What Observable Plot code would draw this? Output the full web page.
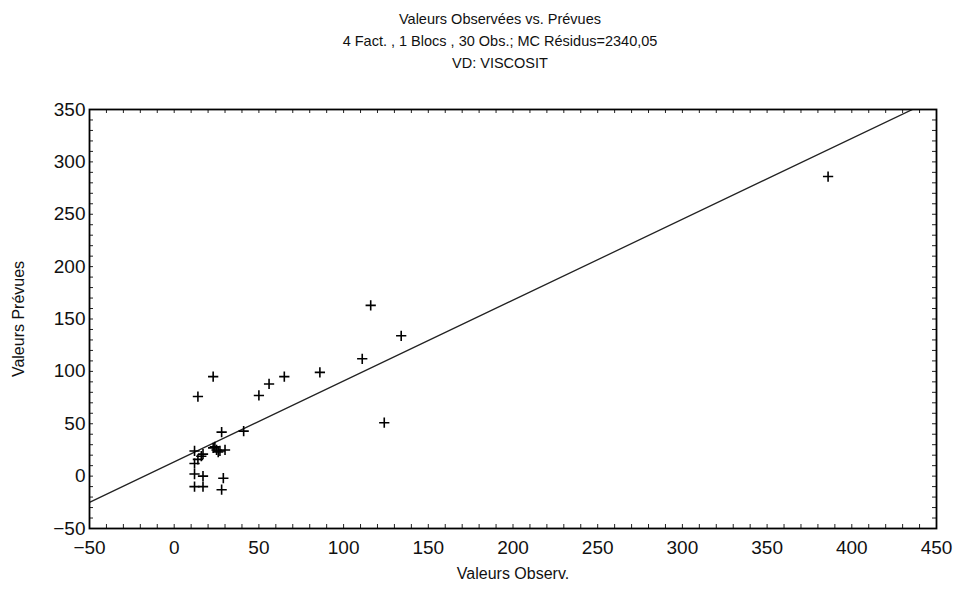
<!DOCTYPE html>
<html>
<head>
<meta charset="utf-8">
<script src="https://cdn.jsdelivr.net/npm/d3@7"></script>
<script src="https://cdn.jsdelivr.net/npm/@observablehq/plot@0.6"></script>
<style>
  html, body { margin: 0; padding: 0; background: #fff; }
  body { width: 956px; height: 590px; overflow: hidden; font-family: "Liberation Sans", Arial, sans-serif; }
  #title { height: 80px; box-sizing: border-box; padding-top: 8px; text-align: center; font-size: 14.5px; line-height: 22px; color: #111; padding-left: 44px; }
</style>
</head>
<body>
<div id="title">
  <div>Valeurs Observées vs. Prévues</div>
  <div>4 Fact. , 1 Blocs , 30 Obs.; MC Résidus=2340,05</div>
  <div>VD: VISCOSIT</div>
</div>
<div id="chart"></div>
<script>
// Observed values (x) and predicted values (y), 30 observations
const observed  = [386, 116, 134, 111, 124, 86, 65, 56, 50, 23, 14, 41, 28, 12, 17, 14, 12, 24, 25, 27, 30, 12, 17, 29, 12, 17, 28, 26, 23, 16];
const predicted = [286, 163, 134, 112,  51, 99, 95, 88, 77, 95, 76, 43, 42, 24, 21, 16, 12, 28, 25, 24, 25,  2,  0, -2, -10, -10, -13, 23, 27, 19];
// fitted line: predicted = fitIntercept + fitSlope * observed
const fitIntercept = 13.6;
const fitSlope = 0.772;
const lineX = [-50, 450];
const xTicks = [-50, 0, 50, 100, 150, 200, 250, 300, 350, 400, 450];
const yTicks = [-50, 0, 50, 100, 150, 200, 250, 300, 350];
const xMinor = d3.range(-50, 451, 10);
const yMinor = d3.range(-50, 351, 10);

const points = observed.map((o, i) => ({obs: o, pred: predicted[i]}));

const W = 956, H = 510, mL = 89, mR = 20, mT = 29, mB = 62;
const pw = W - mL - mR, ph = H - mT - mB;
const tk = 4;

const chart = Plot.plot({
  width: W, height: H,
  marginLeft: mL, marginRight: mR, marginTop: mT, marginBottom: mB,
  style: { fontFamily: "'Liberation Sans', Arial, sans-serif", fontSize: "19px", color: "#111", background: "#fff" },
  x: { domain: [-50, 450] },
  y: { domain: [-50, 350] },
  marks: [
    // minor inward ticks on all four sides
    Plot.tickX(xMinor, { x: d => d, insetTop: ph - tk, stroke: "#222" }),
    Plot.tickX(xMinor, { x: d => d, insetBottom: ph - tk, stroke: "#222" }),
    Plot.tickY(yMinor, { y: d => d, insetRight: pw - tk, stroke: "#222" }),
    Plot.tickY(yMinor, { y: d => d, insetLeft: pw - tk, stroke: "#222" }),
    Plot.axisX(xTicks, { tickSize: 0, tickPadding: 12, label: null, fontSize: 19 }),
    Plot.axisY(yTicks, { tickSize: 0, tickPadding: 4, label: null, fontSize: 19 }),
    Plot.line(lineX, { x: d => d, y: d => fitIntercept + fitSlope * d, stroke: "#222", strokeWidth: 1.3, clip: true }),
    Plot.dot(points, { x: "obs", y: "pred", symbol: "plus", r: 3.4, stroke: "#000", strokeWidth: 1.6 }),
    Plot.frame({ stroke: "#000", strokeWidth: 1.8 }),
    Plot.text(["Valeurs Observ."], { frameAnchor: "bottom", dy: 50, fontSize: 16, fill: "#111" }),
    Plot.text(["Valeurs Prévues"], { frameAnchor: "left", textAnchor: "middle", dx: -71, rotate: -90, fontSize: 16, fill: "#111" })
  ]
});
document.getElementById("chart").appendChild(chart);
</script>
</body>
</html>
